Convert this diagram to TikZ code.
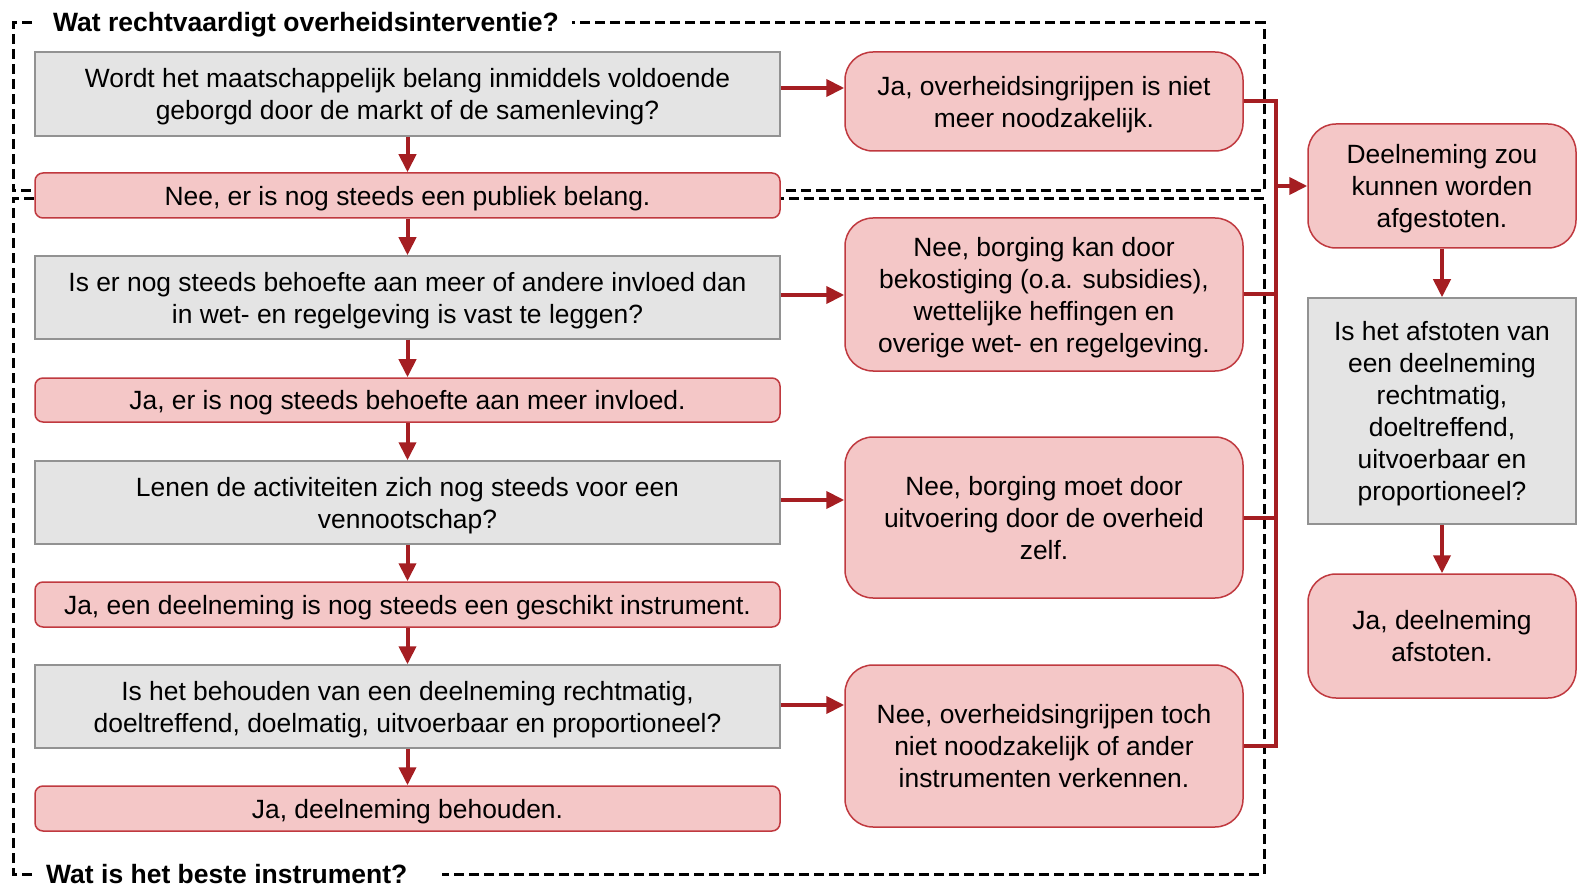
\documentclass[tikz,border=0pt]{standalone}
\usepackage{fontspec}
\setmainfont{Liberation Sans}
\usetikzlibrary{arrows.meta}
\definecolor{pinkfill}{HTML}{F4C7C7}
\definecolor{pinkdraw}{HTML}{C0393F}
\definecolor{arrred}{HTML}{A51E22}
\definecolor{grayfill}{HTML}{E4E4E4}
\definecolor{graydraw}{HTML}{929292}
\begin{document}
\begin{tikzpicture}[x=1pt,y=-1pt,
  txt/.style={font=\fontsize{26.4}{32}\selectfont, align=center, text=black, inner sep=0pt, text depth=-2.5pt},
  graybox/.style={txt, draw=graydraw, fill=grayfill, line width=1.5pt, rectangle},
  pinkbar/.style={txt, draw=pinkdraw, fill=pinkfill, line width=1.5pt, rounded corners=8pt},
  pinkbig/.style={txt, draw=pinkdraw, fill=pinkfill, line width=1.5pt, rounded corners=28pt},
  arr/.style={draw=arrred, line width=4pt, -{Triangle[length=18pt,width=17pt]}},
  busline/.style={draw=arrred, line width=4pt},
  framedash/.style={draw=black, line width=3pt, dash pattern=on 10pt off 5pt},
  titletext/.style={font=\fontsize{26.5}{30}\selectfont\bfseries, inner sep=0pt, anchor=base west}
]
\useasboundingbox (0,0) rectangle (1588,885);
\fill[white] (0,0) rectangle (1588,885);

% dashed frames
\draw[framedash] (32,23) -- (13,23) -- (13,191) -- (1264,191) -- (1264,23) -- (572,23);
\draw[framedash] (32,874) -- (13,874) -- (13,199) -- (1264,199) -- (1264,874) -- (442,874);
\node[titletext] (t1) at (53,31.7) {Wat rechtvaardigt overheidsinterventie?};
\node[titletext] (t2) at (46,883.5) {Wat is het beste instrument?};

% left column
\node[graybox, minimum width=745, minimum height=84] (b1) at (407.5,94) {Wordt het maatschappelijk belang inmiddels voldoende\\geborgd door de markt of de samenleving?};
\node[pinkbar, minimum width=745, minimum height=45] (b2) at (407.5,195.5) {Nee, er is nog steeds een publiek belang.};
\node[graybox, minimum width=745, minimum height=83] (b3) at (407.5,297.5) {Is er nog steeds behoefte aan meer of andere invloed dan\\in wet- en regelgeving is vast te leggen?};
\node[pinkbar, minimum width=745, minimum height=44] (b4) at (407.5,400) {Ja, er is nog steeds behoefte aan meer invloed.};
\node[graybox, minimum width=745, minimum height=83] (b5) at (407.5,502.5) {Lenen de activiteiten zich nog steeds voor een\\vennootschap?};
\node[pinkbar, minimum width=745, minimum height=45] (b6) at (407.5,604.5) {Ja, een deelneming is nog steeds een geschikt instrument.};
\node[graybox, minimum width=745, minimum height=83] (b7) at (407.5,706.5) {Is het behouden van een deelneming rechtmatig,\\doeltreffend, doelmatig, uitvoerbaar en proportioneel?};
\node[pinkbar, minimum width=745, minimum height=45] (b8) at (407.5,808.5) {Ja, deelneming behouden.};

% middle column
\node[pinkbig, minimum width=398, minimum height=99] (m1) at (1044,101.5) {Ja, overheidsingrijpen is niet\\meer noodzakelijk.};
\node[pinkbig, minimum width=398, minimum height=153] (m2) at (1044,294.5) {Nee, borging kan door\\bekostiging (o.a. subsidies),\\wettelijke heffingen en\\overige wet- en regelgeving.};
\node[pinkbig, minimum width=398, minimum height=161] (m3) at (1044,517.5) {Nee, borging moet door\\uitvoering door de overheid\\zelf.};
\node[pinkbig, minimum width=398, minimum height=162] (m4) at (1044,746) {Nee, overheidsingrijpen toch\\niet noodzakelijk of ander\\instrumenten verkennen.};

% right column
\node[pinkbig, minimum width=268, minimum height=124] (r1) at (1442,186) {Deelneming zou\\kunnen worden\\afgestoten.};
\node[graybox, minimum width=268, minimum height=226] (r2) at (1442,411) {Is het afstoten van\\een deelneming\\rechtmatig,\\doeltreffend,\\uitvoerbaar en\\proportioneel?};
\node[pinkbig, minimum width=268, minimum height=124] (r3) at (1442,636) {Ja, deelneming\\afstoten.};

% vertical arrows left column
\draw[arr] (b1) -- (b2);
\draw[arr] (b2) -- (b3);
\draw[arr] (b3) -- (b4);
\draw[arr] (b4) -- (b5);
\draw[arr] (b5) -- (b6);
\draw[arr] (b6) -- (b7);
\draw[arr] (b7) -- (b8);

% horizontal arrows
\draw[arr] ([yshift=6pt]b1.east) -- ([yshift=6pt]b1.east -| m1.west);
\draw[arr] ([yshift=2.5pt]b3.east) -- ([yshift=2.5pt]b3.east -| m2.west);
\draw[arr] ([yshift=2.5pt]b5.east) -- ([yshift=2.5pt]b5.east -| m3.west);
\draw[arr] ([yshift=1.5pt]b7.east) -- ([yshift=1.5pt]b7.east -| m4.west);

% bus
\coordinate (bus) at (1276,0);
\draw[busline] (m1.east) -- (m1.east -| bus) -- (m4.east -| bus) -- (m4.east);
\draw[busline] (m2.east) -- (m2.east -| bus);
\draw[busline] (m3.east) -- (m3.east -| bus);
\draw[arr] (r1.west -| bus) -- (r1.west);

% right column arrows
\draw[arr] (r1) -- (r2);
\draw[arr] (r2) -- (r3);
\end{tikzpicture}
\end{document}
